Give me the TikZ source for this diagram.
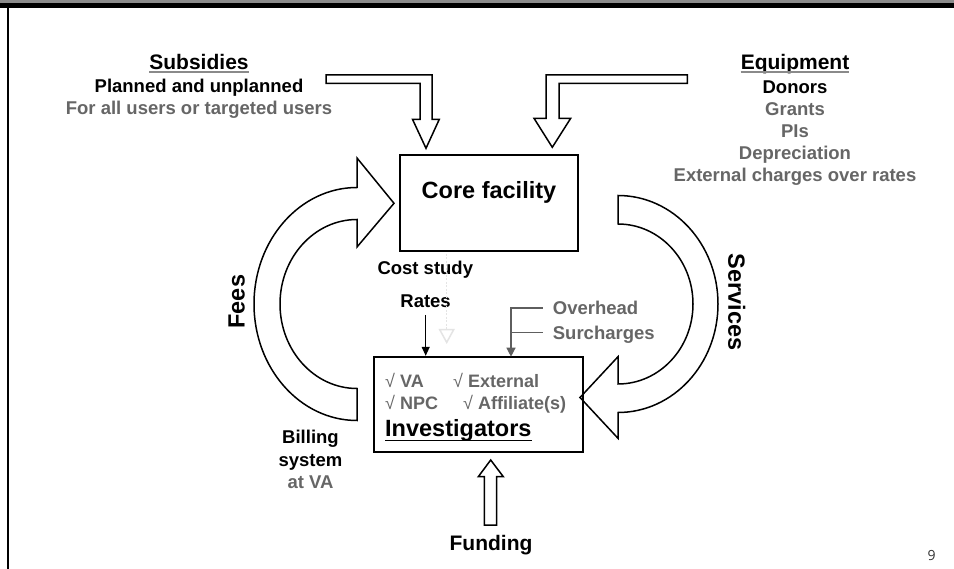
\documentclass[tikz,border=0pt]{standalone}
\usepackage{fontspec}
\setmainfont{Liberation Sans}
\newfontfamily\pagenofont{Open Sans}
\usetikzlibrary{arrows.meta}

\definecolor{txtgray}{HTML}{666666}
\definecolor{linegray}{HTML}{5E5E5E}
\definecolor{ulgray}{HTML}{8A8A8A}
\definecolor{bargray}{HTML}{8C8C8C}
\definecolor{faint}{HTML}{E4E4E4}

\newcommand{\tick}{{\mdseries √}}

\tikzset{
  blockarrow/.style={draw=black, line width=1.5pt, fill=white, line join=miter},
  framebox/.style={draw=black, line width=1.8pt, inner sep=0pt},
  lbl/.style={inner sep=0pt, font=\bfseries\fontsize{18.5}{22}\selectfont},
  head/.style={inner sep=0pt, font=\bfseries\fontsize{21}{24}\selectfont},
  big/.style={inner sep=0pt, font=\bfseries\fontsize{23.5}{26}\selectfont},
  chk/.style={inner sep=0pt, text=txtgray, font=\bfseries\fontsize{18}{22}\selectfont},
  thinarrow/.style={line width=1.1pt, -{Triangle[length=9pt,width=8pt]}},
}

\begin{document}
\begin{tikzpicture}[x=1pt,y=-1pt]
\useasboundingbox (0,0) rectangle (954,569);
\fill[white] (0,0) rectangle (954,569);

% slide frame
\fill[bargray] (0,0) rectangle (954,2.7);
\fill[black] (0,2.7) rectangle (954,8);
\fill[black] (7,8) rectangle (9.3,569);

% inflow arrows from the top
\draw[blockarrow] (326,75) -- (432,75) -- (432,119.3) -- (439.3,119.3) -- (426,148.3)
  -- (412.5,119.3) -- (420,119.3) -- (420,83.3) -- (326,83.3) -- cycle;
\draw[blockarrow] (687.3,75) -- (546,75) -- (546,118.3) -- (534,118.3) -- (552.3,147.3)
  -- (570.7,118.3) -- (559,118.3) -- (559,83.3) -- (687.3,83.3) -- cycle;

% fees loop (left)
\draw[blockarrow] (357,420.5) arc[start angle=90,end angle=270,x radius=103,y radius=116.5]
  -- (357,158) -- (394,203.3) -- (357,247) -- (357,219.5)
  arc[start angle=270,end angle=90,x radius=77,y radius=84.5] -- cycle;

% services loop (right)
\draw[blockarrow] (618,195.5) arc[start angle=-90,end angle=90,x radius=100,y radius=108.5]
  -- (618,438.3) -- (580,397.5) -- (618,356.7) -- (618,384)
  arc[start angle=90,end angle=-90,x radius=75,y radius=80] -- cycle;

% funding arrow
\draw[blockarrow] (484.3,525) -- (484.3,476.7) -- (478.3,476.7) -- (490.7,460)
  -- (503.3,476.7) -- (496.7,476.7) -- (496.7,525) -- cycle;

% boxes
\node[framebox, minimum width=178pt, minimum height=96pt] (core) at (489,203) {};
\node[framebox, minimum width=208.4pt, minimum height=95pt] (inv) at (478.5,404.2) {};

\node[big, anchor=base] (coretxt) at (489,198.3) {Core facility};

% investigators box content
\node[chk, anchor=base west] (va) at (385,387.1) {\tick\ VA};
\node[chk, anchor=base west] (ext) at (453,387.1) {\tick\ External};
\node[chk, anchor=base west] (npc) at (385,409.1) {\tick\ NPC};
\node[chk, anchor=base west] (aff) at (463,409.1) {\tick\ Affiliate(s)};
\node[big, anchor=base west] (invtxt) at (385,436.7) {Investigators};
\draw[line width=1.6pt] ([yshift=-4pt]invtxt.base west) -- ([yshift=-4pt]invtxt.base east);

% subsidies
\node[head, anchor=base] (subs) at (199,69.8) {Subsidies};
\draw[ulgray, line width=1.6pt] ([yshift=-2.5pt]subs.base west) -- ([yshift=-2.5pt]subs.base east);
\node[lbl, anchor=base] (planned) at (199,92.6) {Planned and unplanned};
\node[lbl, anchor=base, text=txtgray] (forall) at (199,114.9) {For all users or targeted users};

% equipment
\node[head, anchor=base] (equip) at (795,69.8) {Equipment};
\draw[ulgray, line width=1.6pt] ([yshift=-2.5pt]equip.base west) -- ([yshift=-2.5pt]equip.base east);
\node[lbl, anchor=base] (donors) at (795,93.3) {Donors};
\node[lbl, anchor=base, text=txtgray] (grants) at (795,115.3) {Grants};
\node[lbl, anchor=base, text=txtgray] (pis) at (795,137.3) {PIs};
\node[lbl, anchor=base, text=txtgray] (depr) at (795,159.9) {Depreciation};
\node[lbl, anchor=base, text=txtgray] (extc) at (795,181.6) {External charges over rates};

% cost study and rates
\node[lbl, anchor=base] (cost) at (425.3,274.4) {Cost study};
\node[lbl, anchor=base] (rates) at (425.6,307.4) {Rates};
\coordinate (ratesout) at (425.7,315);
\draw[thinarrow] (ratesout) -- (ratesout |- inv.north);

% faint dashed arrow from the core facility
\coordinate (fadeA) at (446.7,254);
\coordinate (fadeB) at (446.7,344);
\draw[faint, line width=1.5pt, dash pattern=on 2pt off 1.5pt,
  -{Triangle[open, length=15pt, width=16pt]}] (fadeA) -- (fadeB);

% overhead and surcharges
\node[lbl, anchor=base west, text=txtgray] (oh) at (552.7,314.5) {Overhead};
\node[lbl, anchor=base west, text=txtgray] (sur) at (552.7,339.2) {Surcharges};
\coordinate (ohin) at (511,356.7);
\draw[linegray, line width=1.2pt, -{Triangle[length=9pt,width=9pt]}]
  ([xshift=-10pt,yshift=6.5pt]oh.base west) -| (ohin);
\draw[linegray, line width=1.2pt] ([xshift=-10pt,yshift=6.5pt]sur.base west) -- ++(-31.7,0);

% loop labels
\node[big, rotate=90] (fees) at (236.7,301.7) {Fees};
\node[big, rotate=-90] (serv) at (736.7,302) {Services};

% billing
\node[lbl, anchor=base] (bill1) at (310.5,443.7) {Billing};
\node[lbl, anchor=base] (bill2) at (310.5,466.4) {system};
\node[lbl, anchor=base, text=txtgray] (bill3) at (310.5,488.1) {at VA};

% funding
\node[head, anchor=base] (fund) at (491,550.8) {Funding};

% page number
\node[inner sep=0pt, text=black!80, font=\pagenofont\fontsize{14}{16}\selectfont] (pg) at (931.7,555) {9};
\end{tikzpicture}
\end{document}
